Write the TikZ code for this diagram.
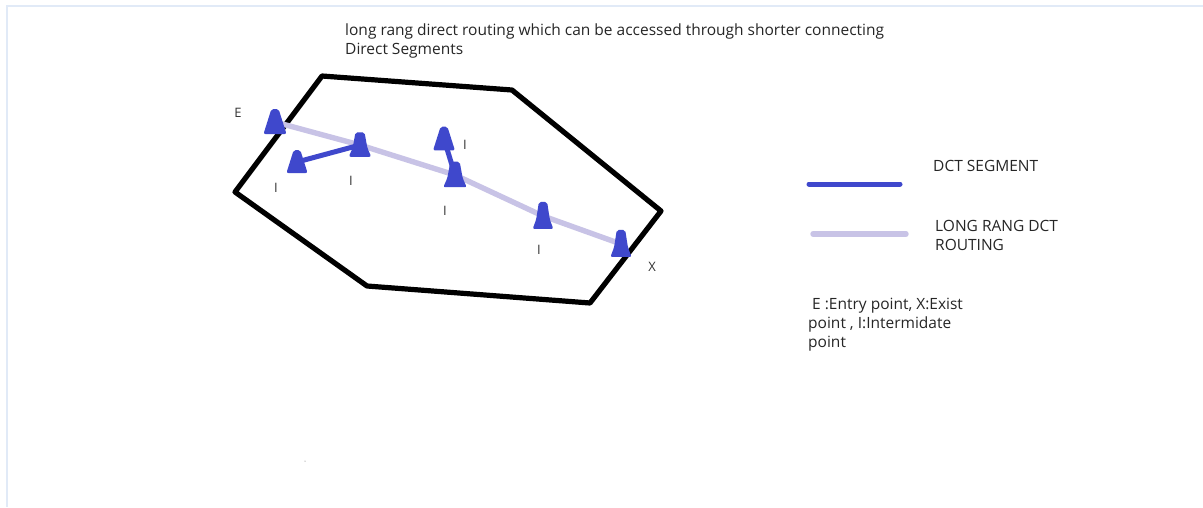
\documentclass[tikz,border=0pt]{standalone}
\usepackage{fontspec}
\setmainfont{Open Sans}
\definecolor{dct}{HTML}{3F48CC}
\definecolor{lrd}{HTML}{C8C3E6}
\definecolor{frame}{HTML}{E1EAF7}
\tikzset{
  x=1pt,y=-1pt,
  region/.style={draw=black,line width=5.2pt,line join=round,line cap=round},
  dctline/.style={draw=dct,line width=5pt,line cap=round},
  lrdline/.style={draw=lrd,line width=5.4pt,line cap=round},
  txt/.style={font=\fontsize{15.5}{19}\selectfont,text=black!85,inner sep=0pt,align=left},
  lab/.style={font=\fontsize{13}{14}\selectfont,text=black!80,inner sep=0pt},
  conetri/.pic={\fill[dct,rounded corners=2pt] (-11.5,12) -- (-3.6,-13) -- (3.6,-13) -- (11.5,12) -- cycle;},
  conewaist/.pic={\fill[dct,rounded corners=2pt] (-11.5,12) -- (-7.5,3) -- (-4.6,-13) -- (4.6,-13) -- (7.5,3) -- (11.5,12) -- cycle;}
}
\begin{document}
\begin{tikzpicture}
\useasboundingbox (0,0) rectangle (1203,507);
\fill[white] (0,0) rectangle (1203,507);
\draw[frame,line width=2pt] (7,507) -- (7,6) -- (1203,6);
\fill[black!60] (305,461) circle (0.5);
% region
\draw[region] (322,76) -- (512,90) -- (661,211) -- (590,303) -- (367,286) -- (235,192) -- cycle;
% waypoints
\coordinate (e) at (275,122);
\coordinate (i1) at (297,162);
\coordinate (i2) at (360,145);
\coordinate (i3) at (444,139);
\coordinate (i4) at (455,175);
\coordinate (i5) at (543,216);
\coordinate (x) at (621,244);
% routes
\draw[lrdline] (e) -- (i2) -- (i4) -- (i5) -- (x);
\draw[dctline] (i1) -- (i2);
\draw[dctline] (i3) -- (i4);
% markers
\pic at (e) {conetri};
\pic[scale=.92] at (i1) {conetri};
\pic[scale=.98] at (i2) {conewaist};
\pic[scale=.95] at (i3) {conetri};
\pic[scale=1.02] at (i4) {conewaist};
\pic[xscale=.9,yscale=1.08] at (i5) {conewaist};
\pic[xscale=.92,yscale=1.08] at (x) {conewaist};
% point labels
\node[lab] (le) at (238,113) {E};
\node[lab] (l1) at (276,188) {I};
\node[lab] (l2) at (351,181) {I};
\node[lab] (l3) at (465,145) {I};
\node[lab] (l4) at (445,211) {I};
\node[lab] (l5) at (539,250) {I};
\node[lab] (lx) at (652,267) {X};
% title
\node[txt,anchor=north west] (title) at (345,24) {long rang direct routing which can be accessed through shorter connecting\\Direct Segments};
% legend
\coordinate (a1) at (809,184);
\coordinate (a2) at (900,184);
\coordinate (b1) at (813,234);
\coordinate (b2) at (906,234);
\draw[dctline] (a1) -- (a2);
\draw[lrdline] (b1) -- (b2);
\node[txt,anchor=north west] (k1) at (933,160) {DCT SEGMENT};
\node[txt,anchor=north west] (k2) at (935,220) {LONG RANG DCT\\ROUTING};
\node[txt,anchor=north west] (k3) at (808,297.5) {\ E :Entry point, X:Exist\\point , I:Intermidate\\point};
\end{tikzpicture}
\end{document}
